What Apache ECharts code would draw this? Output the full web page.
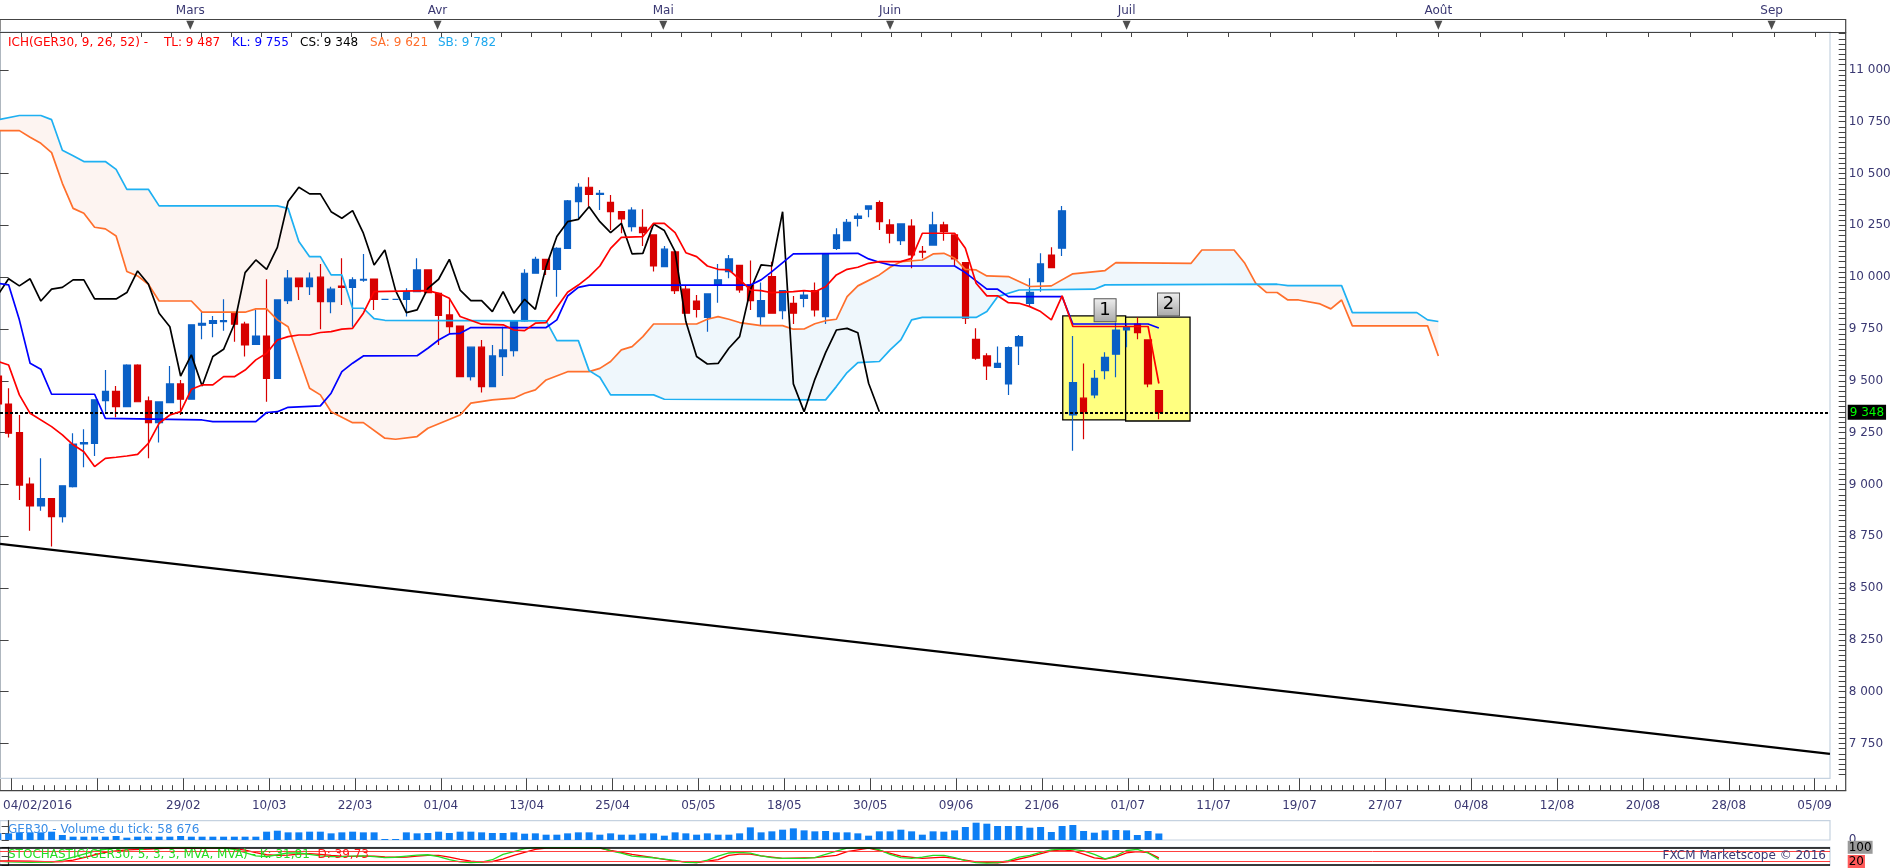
<!DOCTYPE html>
<html><head><meta charset="utf-8">
<script src="https://cdn.jsdelivr.net/npm/echarts@6/dist/echarts.min.js"></script>
<style>html,body{margin:0;padding:0;background:#fff;}#c{width:1903px;height:868px;}</style>
</head><body><div id="c"></div>
<script>
// ---------- DATA ----------
const firstBar = -1; // index of first bar in ohlc / volumes
// [open, close, low, high]
const ohlc = [
[9523,9388,9370,9540],[9388,9247,9227,9464],[9250,8997,8925,9335],[9002,8896,8777,9034],[8896,8932,8873,9126],
[8932,8845,8700,8935],[8845,8993,8816,8995],[8989,9195,8985,9247],[9195,9202,9083,9266],[9198,9408,9137,9410],
[9404,9449,9351,9552],[9449,9375,9324,9475],[9375,9576,9373,9580],[9576,9399,9397,9580],[9403,9298,9126,9424],
[9298,9398,9202,9400],[9395,9485,9393,9572],[9485,9411,9335,9504],[9411,9770,9408,9772],[9768,9777,9700,9834],
[9777,9790,9710,9813],[9786,9790,9742,9893],[9826,9773,9689,9828],[9774,9673,9617,9785],[9676,9716,9674,9842],
[9716,9512,9399,9990],[9512,9890,9510,9892],[9887,9995,9871,10035],[9995,9954,9890,9997],[9954,9995,9914,10022],
[10000,9882,9749,10064],[9882,9942,9826,9954],[9957,9951,9866,10091],[9951,9987,9761,10000],[9986,9990,9978,10112],
[9991,9893,9842,9994],[9893,9893,9893,9893],[9893,9893,9893,9893],[9893,9930,9810,9946],[9930,10035,9928,10091],
[10035,9925,9922,10037],[9922,9815,9673,9925],[9818,9761,9729,9898],[9764,9520,9518,9766],[9520,9662,9501,9664],
[9662,9472,9443,9697],[9472,9620,9470,9673],[9617,9649,9523,9761],[9646,9789,9617,9791],[9789,10019,9785,10038],
[10019,10086,10017,10099],[10086,10038,10011,10088],[10038,10139,9906,10144],[10139,10368,10137,10372],[10365,10434,10284,10453],
[10434,10400,10340,10482],[10400,10405,10324,10421],[10361,10316,10228,10397],[10316,10281,10212,10318],[10244,10324,10220,10337],
[10241,10215,10151,10328],[10204,10054,10027,10206],[10051,10135,10049,10151],[10122,9935,9919,10124],[9942,9826,9823,9962],
[9885,9845,9806,9914],[9806,9919,9737,9921],[9962,9987,9877,10064],[10027,10088,9995,10107],[10057,9938,9925,10060],
[9962,9887,9842,10080],[9810,9887,9765,9974],[10003,9826,9823,10075],[9838,9935,9797,9937],[9874,9826,9774,9909],
[9898,9914,9855,9938],[9935,9842,9810,9974],[9810,10112,9774,10114],[10139,10204,10131,10236],[10176,10265,10175,10281],
[10284,10295,10244,10308],[10328,10344,10289,10346],[10360,10268,10228,10370],[10252,10212,10164,10279],[10176,10257,10155,10259],
[10247,10107,10043,10279],[10125,10121,10091,10151],[10155,10252,10154,10316],[10252,10220,10176,10268],[10204,10088,10054,10206],
[10070,9802,9774,10073],[9700,9609,9601,9753],[9620,9572,9504,9633],[9565,9584,9563,9665],[9485,9660,9432,9665],
[9668,9713,9576,9721],[9874,9927,9858,9995],[9979,10064,9930,10115],[10107,10046,10044,10144],[10140,10320,10102,10344],
[9335,9491,9163,9716],[9416,9351,9218,9584],[9432,9512,9416,9552],[9549,9613,9507,9638],[9628,9745,9517,9781],
[9745,9758,9662,9770],[9774,9732,9700,9806],[9697,9485,9469,9700],[9453,9348,9314,9455]
];
// tick volume (thousands)
const volumes = [
60,60,69,69,69,75,45,30,30,30, 30,36,21,30,30,30,30,36,30,30, 30,30,30,30,30,75,84,69,69,75,
75,60,69,75,69,69,9,9,69,60, 63,75,63,75,75,69,63,63,69,57, 60,48,48,60,69,69,48,60,48,48,
60,60,39,69,60,48,60,48,48,60, 114,69,78,93,105,87,78,81,69,69, 60,39,78,78,93,78,48,78,75,87,
117,156,147,126,126,126,111,117,72,126, 135,81,66,87,90,87,45,81,58.676
];
// Ichimoku lines: [bar index, value]
const tenkan = [[-1,9593],[0,9576],[1,9432],[2,9343],[4,9279],[5,9239],[6,9191],[7,9158],[8,9086],[9,9126],[10,9131],[11,9137],[12,9145],[13,9198],[14,9295],[15,9335],[16,9351],[17,9459],[18,9480],[19,9480],[20,9520],[21,9520],[22,9552],[23,9601],[24,9633],[25,9697],[26,9713],[27,9721],[28,9721],[29,9733],[30,9737],[31,9749],[32,9753],[33,9826],[34,9930],[39,9935],[40,9922],[41,9898],[42,9810],[44,9773],[46,9770],[47,9745],[48,9742],[49,9778],[50,9781],[52,9927],[53,9962],[54,10003],[55,10054],[56,10139],[57,10192],[59,10196],[60,10260],[61,10260],[62,10215],[63,10118],[64,10099],[65,10054],[66,10038],[67,10035],[68,9990],[69,9938],[70,9935],[71,9925],[73,9930],[74,9935],[75,9930],[76,9954],[77,10011],[78,10038],[79,10048],[80,10067],[81,10075],[83,10075],[84,10091],[85,10212],[88,10212],[89,10140],[90,9971],[91,9910],[92,9910],[93,9877],[94,9874],[95,9858],[96,9834],[97,9794],[98,9910],[99,9762],[106,9762],[107,9487]];
const kijun = [[-1,9971],[0,9963],[1,9794],[2,9585],[3,9556],[4,9435],[8,9435],[9,9319],[18,9311],[19,9303],[23,9303],[24,9347],[25,9351],[26,9372],[29,9379],[30,9440],[31,9544],[32,9585],[33,9620],[38,9621],[39,9657],[40,9697],[41,9726],[42,9729],[43,9757],[50,9757],[51,9794],[52,9909],[53,9951],[54,9962],[69,9962],[70,9987],[71,10027],[73,10112],[79,10115],[80,10088],[81,10072],[82,10059],[83,10054],[88,10054],[89,10022],[91,9942],[92,9942],[93,9906],[98,9906],[99,9774],[106,9774],[107,9755]];
const chikou = [[-1,9914],[0,9992],[1,9958],[2,9992],[3,9885],[4,9942],[5,9951],[6,9987],[7,9987],[8,9895],[10,9895],[11,9926],[12,10030],[13,9967],[14,9826],[15,9761],[16,9523],[17,9625],[18,9475],[19,9617],[20,9652],[21,9774],[22,10022],[23,10083],[24,10038],[25,10144],[26,10365],[27,10434],[28,10402],[29,10402],[30,10316],[31,10284],[32,10321],[33,10212],[34,10059],[35,10131],[36,9935],[37,9829],[38,9842],[39,9946],[40,9990],[41,10086],[42,9938],[43,9887],[44,9887],[45,9834],[46,9930],[47,9826],[48,9893],[49,9845],[50,10051],[51,10196],[52,10268],[53,10279],[54,10340],[55,10268],[56,10215],[57,10260],[58,10112],[59,10115],[60,10257],[61,10225],[62,10123],[63,9786],[64,9617],[65,9581],[66,9584],[67,9657],[68,9713],[69,9938],[70,10059],[71,10054],[72,10316],[73,9485],[74,9351],[75,9507],[76,9636],[77,9745],[78,9753],[79,9732],[80,9488],[81,9351]];
const senkouA = [[-1,10707],[1,10707],[2,10675],[3,10646],[4,10601],[5,10453],[6,10332],[7,10308],[8,10241],[9,10233],[10,10199],[11,10027],[12,10006],[13,9966],[14,9885],[17,9885],[18,9831],[22,9831],[23,9847],[24,9847],[25,9794],[26,9761],[28,9464],[29,9432],[30,9351],[32,9298],[33,9298],[35,9223],[36,9218],[38,9231],[39,9271],[42,9335],[43,9392],[45,9408],[47,9416],[48,9440],[49,9456],[50,9504],[52,9544],[54,9544],[55,9560],[56,9593],[57,9649],[58,9665],[59,9713],[60,9774],[64,9774],[65,9797],[66,9810],[67,9797],[68,9781],[70,9766],[72,9766],[73,9749],[74,9750],[75,9775],[76,9790],[77,9797],[78,9906],[79,9958],[81,10011],[82,10048],[83,10075],[85,10083],[86,10112],[87,10115],[88,10091],[89,10038],[90,10035],[91,10006],[93,10003],[95,9955],[97,9958],[99,10016],[102,10032],[103,10070],[110,10067],[111,10131],[114,10131],[115,10067],[116,9971],[117,9927],[118,9926],[119,9890],[120,9890],[122,9871],[123,9847],[124,9890],[125,9765],[132,9765],[133,9620]];
const senkouB = [[-1,10759],[1,10780],[3,10780],[4,10760],[5,10612],[6,10586],[7,10558],[9,10558],[10,10520],[11,10424],[13,10424],[14,10344],[25,10344],[26,10332],[27,10172],[28,10099],[29,10099],[30,10011],[31,10011],[32,9850],[33,9850],[34,9800],[35,9792],[50,9789],[51,9694],[53,9694],[54,9549],[55,9517],[56,9432],[60,9432],[61,9411],[76,9408],[77,9472],[78,9540],[79,9588],[81,9593],[82,9649],[83,9697],[84,9794],[85,9806],[90,9806],[91,9834],[92,9906],[94,9938],[101,9942],[102,9963],[118,9966],[119,9959],[124,9959],[125,9829],[131,9829],[132,9794],[133,9786]];
const kumoTwists = [54.0, 116.05];
// Stochastic %K and %D: [bar index, value]
const stochK = [[-1,22],[0,18],[2,15],[4,17],[5,28],[6,45],[7,62],[8,78],[9,88],[10,95],[11,98],[13,98],[15,100],[17,100],[19,98],[20,96],[21,88],[22,70],[23,52],[24,48],[25,58],[26,68],[27,68],[28,60],[29,52],[30,48],[31,48],[32,50],[33,52],[34,48],[35,42],[36,44],[37,50],[38,56],[39,58],[40,48],[41,30],[42,18],[43,14],[44,16],[45,30],[46,60],[47,75],[48,92],[49,98],[55,98],[56,80],[57,67],[58,50],[60,41],[62,26],[63,15],[64,14],[65,28],[66,50],[67,68],[68,71],[69,67],[70,52],[71,42],[72,38],[74,38],[75,42],[76,60],[77,78],[78,95],[80,98],[81,85],[82,60],[83,42],[84,38],[85,45],[86,55],[87,55],[88,42],[89,25],[90,14],[91,11],[92,14],[93,25],[94,45],[95,55],[96,72],[97,86],[98,90],[99,88],[100,80],[101,60],[102,35],[103,52],[104,82],[105,88],[106,68],[107,32]];
const stochD = [[-1,24],[0,24],[2,22],[4,18],[5,20],[6,28],[7,42],[8,58],[9,72],[10,80],[11,86],[13,90],[15,95],[17,96],[19,97],[20,96],[21,92],[22,84],[23,70],[24,58],[25,54],[26,56],[27,62],[28,64],[29,60],[30,54],[31,50],[32,49],[33,50],[34,50],[35,46],[36,44],[37,45],[38,50],[39,54],[40,54],[41,45],[42,32],[43,22],[44,16],[45,20],[46,35],[47,55],[48,72],[49,88],[50,95],[55,95],[56,82],[58,60],[60,42],[62,22],[64,14],[66,30],[67,55],[68,62],[69,62],[70,52],[72,38],[75,42],[77,55],[78,76],[80,95],[81,82],[83,50],[85,38],[87,45],[88,38],[89,28],[90,18],[92,12],[93,20],[95,48],[97,80],[98,86],[99,80],[100,62],[101,40],[102,34],[103,46],[104,68],[105,76],[106,70],[107,40]];
// drawn annotations
const trendLine = [[-0.8,8713],[169.43,7700]];
const boxes = [[98.06,9813,103.91,9311],[103.91,9807,109.9,9306]];
const boxLabels = [[102.0,9840,'1'],[107.9,9868,'2']];
// axis labels
const months = ['Mars','Avr','Mai','Juin','Juil','Août','Sep'];
const monthIdx = [16.9,39.9,60.9,82,104,133,164];
const tickDates = ['04/02/2016',null,'29/02','10/03','22/03','01/04','13/04','25/04','05/05','18/05','30/05','09/06','21/06','01/07','11/07','19/07','27/07','04/08','12/08','20/08','28/08','05/09'];
const priceTicks = [7750,8000,8250,8500,8750,9000,9250,9500,9750,10000,10250,10500,10750,11000];
const legendItems = [
  ['ICH(GER30, 9, 26, 52) -', '#ff0000'], ['TL: 9 487', '#ff0000'], ['KL: 9 755', '#0000ff'],
  ['CS: 9 348', '#000000'], ['SA: 9 621', '#ff6f2c'], ['SB: 9 782', '#1ea8ee']
];
const volText = 'GER30 - Volume du tick: 58 676';
const stochText = {k:'STOCHASTIC(GER30, 5, 3, 3, MVA, MVA) - K: 31,81', d:'D: 39,73'};

// ---------- BUILD ----------
const NAVY = '#3a3872';
const FONT = 'DejaVu Sans';
const XMIN = -0.8, XMAX = 169.4326, XMAX_AX = 170.893;
const candleData = ohlc.map((r, i) => [firstBar + i, r[0], r[1], r[2], r[3]]);
const volData = volumes.map((v, i) => [firstBar + i, v * 1000]);
const lastPrice = ohlc[ohlc.length - 1][1];
const fmtNum = v => String(v).replace(/\B(?=(\d{3})+(?!\d))/g, ' ');
const minorPrice = []; for (let v = 7600; v <= 11175; v += 25) minorPrice.push(v);
const dateMajor = tickDates.map((t, k) => k * 8);
const dateLabelIdx = dateMajor.filter((v, k) => k > 0 && tickDates[k]);
const minorDates = []; for (let i = 0; i <= 170; i++) minorDates.push(i);
const topTicks = [];
for (let t = 1.17; t < 105; t += 2.79) topTicks.push(t);
for (let t = 133 - 3.9 * 6; t < 170.8; t += 3.9) topTicks.push(t);
const legendLeft = [8, 164, 232, 300, 370, 438];

const PINK = '#fdf4f1', LBLUE = '#eff7fc';

const chart = echarts.init(document.getElementById('c'), null, {renderer: 'canvas'});
const hiddenX = g => ({type: 'value', gridIndex: g, show: false, min: 0, max: 1});
const hiddenY = g => ({type: 'value', gridIndex: g, show: false, min: 0, max: 1});

const titles = legendItems.map((it, k) => ({left: legendLeft[k], top: 36.5, padding: 0, text: it[0],
  textStyle: {fontSize: 12, fontWeight: 'normal', color: it[1], fontFamily: FONT}}));
titles.push(
  {left: 8, top: 824, padding: 0, text: volText, textStyle: {fontSize: 12, fontWeight: 'normal', color: '#3a8ee8', fontFamily: FONT}},
  {left: 8, top: 848.5, padding: 0, text: '{g|' + stochText.k + '}  {r|' + stochText.d + '}',
   textStyle: {fontSize: 12, fontWeight: 'normal', fontFamily: FONT, rich: {
     g: {color: '#22dd22', fontSize: 12, fontFamily: FONT}, r: {color: '#ff1a1a', fontSize: 12, fontFamily: FONT}}}},
  {right: 77, top: 850, padding: 0, text: 'FXCM Marketscope © 2016', textStyle: {fontSize: 12, fontWeight: 'normal', color: NAVY, fontFamily: FONT}}
);

chart.setOption({
  animation: false,
  backgroundColor: '#ffffff',
  textStyle: {fontFamily: FONT},
  title: titles,
  grid: [
    {left: 0, top: 32, width: 1830, height: 746.3, show: false},                 // 0 main
    {left: 0, top: 820.7, width: 1830, height: 19.3, show: true, borderColor: '#c5d2e0', borderWidth: 1.2}, // 1 volume
    {left: 0, top: 847.3, width: 1830, height: 18.7, show: true, borderColor: '#c5d2e0', borderWidth: 1.2}, // 2 stoch
    {left: 0, top: 19.5, width: 1845.7, height: 12.5, show: false},              // 3 top axis
    {left: 0, top: 778.3, width: 1845.7, height: 12.4, show: false},             // 4 bottom axis
    {left: -2, top: 19.5, width: 1847.7, height: 771.2, show: true, borderColor: '#444', borderWidth: 1.2, backgroundColor: 'transparent'}, // 5 frame
    {left: -2, top: 32, width: 1832, height: 746.3, show: true, borderColor: '#c5d2e0', borderWidth: 1.2, backgroundColor: 'transparent'}  // 6 plot frame
  ],
  xAxis: [
    {type: 'value', gridIndex: 0, min: XMIN, max: XMAX, show: false},
    {type: 'value', gridIndex: 1, min: XMIN, max: XMAX, show: false},
    {type: 'value', gridIndex: 2, min: XMIN, max: XMAX, show: false},
    {type: 'value', gridIndex: 3, min: XMIN, max: XMAX_AX, position: 'top',
     axisLine: {show: true, lineStyle: {color: '#444', width: 1.2}},
     axisTick: {show: true, inside: true, length: 5, customValues: topTicks, lineStyle: {color: '#444'}},
     axisLabel: {show: true, customValues: monthIdx, formatter: v => months[monthIdx.indexOf(v)], margin: 3, color: NAVY, fontSize: 12, fontFamily: FONT},
     splitLine: {show: false}},
    {type: 'value', gridIndex: 4, min: XMIN, max: XMAX_AX, position: 'bottom',
     axisLine: {show: true, lineStyle: {color: '#444', width: 1.2}},
     axisTick: {show: true, inside: true, length: 12.4, customValues: dateMajor, lineStyle: {color: '#444'}},
     axisLabel: {show: true, customValues: dateLabelIdx, formatter: v => tickDates[Math.round(v / 8)], margin: 9, color: NAVY, fontSize: 12, fontFamily: FONT},
     splitLine: {show: false}},
    {type: 'value', gridIndex: 4, min: XMIN, max: XMAX_AX, position: 'bottom',
     axisLine: {show: false}, axisTick: {show: true, inside: true, length: 5.5, customValues: minorDates, lineStyle: {color: '#444'}},
     axisLabel: {show: false}, splitLine: {show: false}},
    {type: 'value', gridIndex: 4, min: XMIN, max: XMAX_AX, position: 'bottom',
     axisLine: {show: false}, axisTick: {show: false},
     axisLabel: {show: true, customValues: [XMIN], align: 'left', formatter: () => tickDates[0], margin: 9, color: NAVY, fontSize: 12, fontFamily: FONT},
     splitLine: {show: false}},
    hiddenX(5), hiddenX(6)
  ],
  yAxis: [
    {type: 'value', gridIndex: 0, min: 7582, max: 11183, position: 'right', offset: 15.7,
     axisLine: {show: false}, splitLine: {show: false},
     axisTick: {show: true, inside: true, length: 14, customValues: priceTicks, lineStyle: {color: '#444'}},
     axisLabel: {show: true, customValues: priceTicks, formatter: fmtNum, margin: 3, color: NAVY, fontSize: 12, fontFamily: FONT}},
    {type: 'value', gridIndex: 0, min: 7582, max: 11183, position: 'right', offset: 15.7,
     axisLine: {show: false}, splitLine: {show: false},
     axisTick: {show: true, inside: true, length: 7, customValues: minorPrice, lineStyle: {color: '#444'}},
     axisLabel: {show: false}},
    {type: 'value', gridIndex: 0, min: 7582, max: 11183, position: 'right', offset: 15.7,
     axisLine: {show: false}, splitLine: {show: false}, axisTick: {show: false},
     axisLabel: {show: true, customValues: [lastPrice], formatter: v => '{p|' + fmtNum(v) + '}', margin: 2,
       rich: {p: {backgroundColor: '#000', color: '#00ff00', fontSize: 12, fontFamily: FONT, padding: [2, 2, 1, 2]}}}},
    {type: 'value', gridIndex: 1, min: 0, max: 174000, position: 'right', offset: 15.7,
     axisLine: {show: true, lineStyle: {color: '#444', width: 1.2}}, splitLine: {show: false},
     axisTick: {show: true, inside: true, length: 7, customValues: [0, 60000, 120000], lineStyle: {color: '#444'}},
     axisLabel: {show: true, customValues: [0], formatter: () => '0', margin: 3, color: NAVY, fontSize: 12, fontFamily: FONT}},
    {type: 'value', gridIndex: 2, min: 0, max: 100, position: 'right', offset: 15.7,
     axisLine: {show: true, lineStyle: {color: '#444', width: 1.2}}, splitLine: {show: false},
     axisTick: {show: true, inside: true, length: 7, customValues: [0, 50, 100], lineStyle: {color: '#444'}},
     axisLabel: {show: true, customValues: [100, 20], margin: 2,
       formatter: v => v === 100 ? '{g|100}' : '{r|20}',
       rich: {g: {backgroundColor: '#9a9a9a', color: '#000', fontSize: 12, fontFamily: FONT, padding: [1, 1, 0, 1]},
              r: {backgroundColor: '#ff5a5a', color: '#000', fontSize: 12, fontFamily: FONT, padding: [1, 1, 0, 1]}}}},
    hiddenY(3), hiddenY(4), hiddenY(5), hiddenY(6)
  ],
  series: [
    // Kumo cloud fill
    {type: 'custom', xAxisIndex: 0, yAxisIndex: 0, z: 1, silent: true, data: [[0, 10000]],
     renderItem: function (params, api) {
       const a = senkouA.map(p => api.coord(p));
       const b = senkouB.map(p => api.coord(p)).reverse();
       const x0 = senkouA[0][0], x1 = senkouA[senkouA.length - 1][0];
       const f1 = (kumoTwists[0] - x0) / (x1 - x0), f2 = (kumoTwists[1] - x0) / (x1 - x0);
       return {type: 'polygon', shape: {points: a.concat(b)},
         style: {fill: new echarts.graphic.LinearGradient(0, 0, 1, 0, [
           {offset: 0, color: PINK}, {offset: f1, color: PINK}, {offset: f1, color: LBLUE},
           {offset: f2, color: LBLUE}, {offset: f2, color: PINK}, {offset: 1, color: PINK}])}};
     }},
    // Yellow boxes
    {type: 'custom', xAxisIndex: 0, yAxisIndex: 0, z: 2, silent: true, data: boxes,
     encode: {x: [0, 2], y: [1, 3]},
     renderItem: function (params, api) {
       const p0 = api.coord([api.value(0), api.value(1)]);
       const p1 = api.coord([api.value(2), api.value(3)]);
       return {type: 'rect', shape: {x: p0[0], y: p0[1], width: p1[0] - p0[0], height: p1[1] - p0[1]},
         style: {fill: '#ffff80', stroke: '#000', lineWidth: 1.3}};
     }},
    // trend line
    {type: 'line', xAxisIndex: 0, yAxisIndex: 0, z: 3, data: trendLine, showSymbol: false, silent: true,
     lineStyle: {color: '#000', width: 2.4},
     markLine: {silent: true, symbol: ['none', 'none'], label: {show: false},
       lineStyle: {color: '#000', type: [3, 2], width: 2}, data: [{yAxis: lastPrice}]}},
    // candles
    {type: 'candlestick', xAxisIndex: 0, yAxisIndex: 0, z: 4, data: candleData, barWidth: 7,
     encode: {x: 0, y: [1, 2, 3, 4]},
     itemStyle: {color: '#0a60c6', color0: '#d70000', borderColor: '#0a60c6', borderColor0: '#d70000', borderWidth: 1.2}},
    // Senkou spans
    {name: 'SA', type: 'line', xAxisIndex: 0, yAxisIndex: 0, z: 5, data: senkouA, showSymbol: false, silent: true,
     lineStyle: {color: '#ff6f2c', width: 1.7}},
    {name: 'SB', type: 'line', xAxisIndex: 0, yAxisIndex: 0, z: 5, data: senkouB, showSymbol: false, silent: true,
     lineStyle: {color: '#1eb0f2', width: 1.7}},
    // Tenkan, Kijun, Chikou
    {name: 'CS', type: 'line', xAxisIndex: 0, yAxisIndex: 0, z: 6, data: chikou, showSymbol: false, silent: true,
     lineStyle: {color: '#000', width: 1.7}},
    {name: 'KL', type: 'line', xAxisIndex: 0, yAxisIndex: 0, z: 6, data: kijun, showSymbol: false, silent: true,
     lineStyle: {color: '#0000ff', width: 1.7}},
    {name: 'TL', type: 'line', xAxisIndex: 0, yAxisIndex: 0, z: 6, data: tenkan, showSymbol: false, silent: true,
     lineStyle: {color: '#ff0000', width: 1.7}},
    // numbered labels
    {type: 'scatter', xAxisIndex: 0, yAxisIndex: 0, z: 7, data: boxLabels, silent: true,
     encode: {x: 0, y: 1}, symbol: 'rect', symbolSize: [22, 23],
     itemStyle: {color: new echarts.graphic.LinearGradient(0, 0, 0, 1, [{offset: 0, color: '#eeeeee'}, {offset: 1, color: '#a8a8a8'}]),
       borderColor: '#555', borderWidth: 1, opacity: 1},
     label: {show: true, position: 'inside', formatter: p => p.data[2], color: '#000', fontSize: 18, fontFamily: FONT}},
    // volume
    {type: 'bar', xAxisIndex: 1, yAxisIndex: 3, data: volData, barWidth: 7, silent: true,
     itemStyle: {color: '#0d7ff5'}},
    // stochastic
    {type: 'line', xAxisIndex: 2, yAxisIndex: 4, data: stochD, showSymbol: false, silent: true,
     lineStyle: {color: '#ff0000', width: 1.3},
     markLine: {silent: true, symbol: ['none', 'none'], label: {show: false},
       data: [{yAxis: 100, lineStyle: {color: '#000', width: 1.5, type: 'solid'}},
              {yAxis: 0, lineStyle: {color: '#000', width: 1.5, type: 'solid'}},
              {yAxis: 80, lineStyle: {color: '#ff4040', width: 1, type: 'solid'}},
              {yAxis: 20, lineStyle: {color: '#ff4040', width: 1, type: 'solid'}}]}},
    {type: 'line', xAxisIndex: 2, yAxisIndex: 4, data: stochK, showSymbol: false, silent: true,
     lineStyle: {color: '#22dd22', width: 1.3}},
    // month markers
    {type: 'scatter', xAxisIndex: 3, yAxisIndex: 5, data: monthIdx.map(v => [v, 0.55]), silent: true,
     symbol: 'triangle', symbolRotate: 180, symbolSize: [8, 9], itemStyle: {color: '#222'}}
  ]
});
</script></body></html>
